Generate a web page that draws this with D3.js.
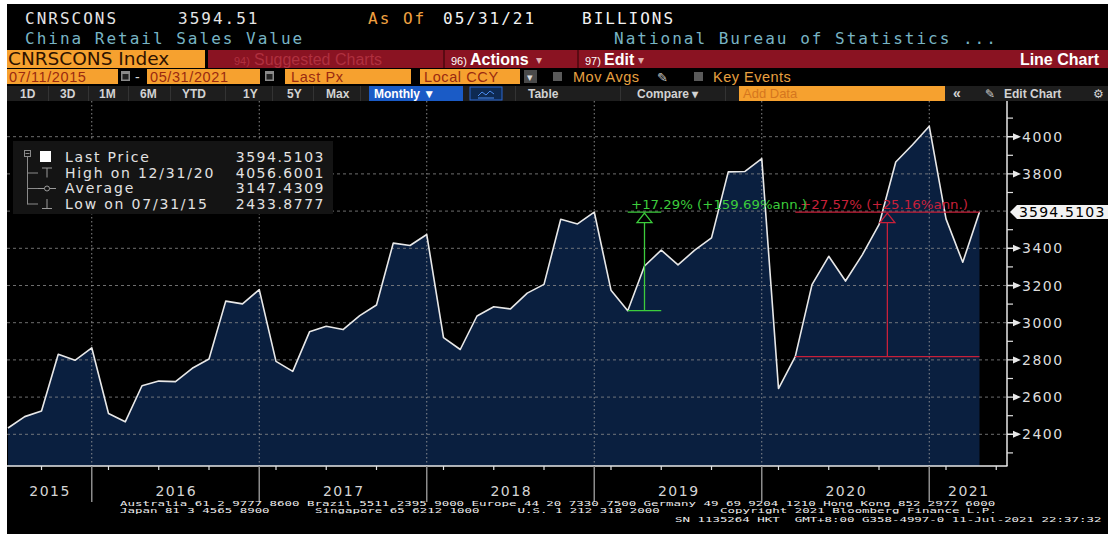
<!DOCTYPE html>
<html><head><meta charset="utf-8">
<script src="https://cdn.jsdelivr.net/npm/d3@7"></script>
<style>
html,body{margin:0;padding:0;background:#fff;}
svg{display:block;}
text{white-space:pre;}
</style></head><body>
<svg id="c" width="1108" height="534"></svg>
<script>
// ---------------- DATA ----------------
const months = [
"2015-07","2015-08","2015-09","2015-10","2015-11","2015-12",
"2016-03","2016-04","2016-05","2016-06","2016-07","2016-08","2016-09","2016-10","2016-11","2016-12",
"2017-03","2017-04","2017-05","2017-06","2017-07","2017-08","2017-09","2017-10","2017-11","2017-12",
"2018-03","2018-04","2018-05","2018-06","2018-07","2018-08","2018-09","2018-10","2018-11","2018-12",
"2019-03","2019-04","2019-05","2019-06","2019-07","2019-08","2019-09","2019-10","2019-11","2019-12",
"2020-03","2020-04","2020-05","2020-06","2020-07","2020-08","2020-09","2020-10","2020-11","2020-12",
"2021-03","2021-04","2021-05"];
const values = [
2433.88,2495,2525,2830,2798,2865,
2512,2467,2661,2686,2683,2755,2805,3116,3101,3178,
2792,2738,2951,2981,2963,3038,3095,3428,3415,3474,
2920,2856,3036,3086,3074,3159,3206,3556,3531,3595,
3175,3064.6,3305,3390,3311,3390,3456,3811,3813,3882,
2646,2817.7,3205,3357,3224,3365,3527,3864,3957,4056.6,
3558,3325,3594.51];
const axisMonths = months.concat(["2021-06"]);
const yTicks = [2400,2600,2800,3000,3200,3400,3600,3800,4000];
const yMinor = [2300,2500,2700,2900,3100,3300,3500,3700,3900,4100];
const yearLabels = ["2015","2016","2017","2018","2019","2020","2021"];
const legendLabels = ["Last Price","High on 12/31/20","Average","Low on 07/31/15"];
const legendValues = ["3594.5103","4056.6001","3147.4309","2433.8777"];
const lastValue = 3594.5103;
const lastLabel = "3594.5103";
const greenMeasure = {from:"2019-04", to:"2019-06", label:"+17.29% (+159.69%ann.)"};
const redMeasure = {from:"2020-04", to:"2021-05", label:"+27.57% (+25.16%ann.)"};
const footer1 = ["Australia 61 2 9777 8600 Brazil 5511 2395 9000 Europe 44 20 7330 7500 Germany 49 69 9204 1210 Hong Kong 852 2977 6000"];
const footer2 = ["Japan 81 3 4565 8900","Singapore 65 6212 1000","U.S. 1 212 318 2000","Copyright 2021 Bloomberg Finance L.P."];
const footer2Cols = [0,26,53,80];
const footer3 = "SN 1135264 HKT  GMT+8:00 G358-4997-0 11-Jul-2021 22:37:32";

// ---------------- SETUP ----------------
const svg = d3.select("#c");
const MONO = "'DejaVu Sans Mono', monospace";
const SANS = "'DejaVu Sans', Verdana, sans-serif";
const ARIAL = "'Liberation Sans', Arial, sans-serif";
const ORANGE = "#f6a12f";

svg.append("rect").attr("width",1108).attr("height",534).attr("fill","#fff");
svg.append("rect").attr("x",7).attr("y",4).attr("width",1101).attr("height",530).attr("fill","#000");

function T(x,y,s,o){
  o=o||{};
  const t=svg.append("text").attr("x",x).attr("y",y).text(s)
    .attr("font-family",o.ff||SANS).attr("font-size",o.fs||14)
    .attr("fill",o.fill||"#e0e0e0");
  if(o.ls!==undefined) t.attr("letter-spacing",o.ls);
  if(o.fw) t.attr("font-weight",o.fw);
  if(o.anchor) t.attr("text-anchor",o.anchor);
  if(o.tl) t.attr("textLength",o.tl).attr("lengthAdjust","spacingAndGlyphs");
  return t;
}

// ---------------- HEADER ----------------
[["CNRSCONS",25,"#e4e4e4"],["3594.51",178,"#e4e4e4"],["As Of",368,"#f0a040"],["05/31/21",443,"#f2f2f2"],["BILLIONS",582,"#f2f2f2"]]
 .forEach(d=>T(d[1],24,d[0],{ff:MONO,fs:16,ls:2,fill:d[2]}));
T(25,44,"China Retail Sales Value",{ff:MONO,fs:16,ls:2,fill:"#78b4c4"});
T(614,44,"National Bureau of Statistics ...",{ff:MONO,fs:16,ls:2,fill:"#78b4c4"});

// row 3
svg.append("rect").attr("x",7).attr("y",50).attr("width",198).attr("height",18).attr("fill",ORANGE);
T(8,65,"CNRSCONS Index",{fs:18.5,fill:"#2e1200"});
svg.append("rect").attr("x",208).attr("y",50).attr("width",900).attr("height",18).attr("fill","#8a1322");
T(234,65,"94)",{ff:ARIAL,fs:11,fill:"#b0303f"});
T(254,65,"Suggested Charts",{ff:ARIAL,fs:16,fill:"#b0303f"});
svg.append("rect").attr("x",443).attr("y",50).attr("width",2).attr("height",18).attr("fill","#5a0a12");
T(451,65,"96)",{ff:ARIAL,fs:11,fill:"#fff"});
T(470,65,"Actions",{ff:ARIAL,fs:16,fw:"bold",fill:"#fff"});
T(536,64,"▾",{ff:SANS,fs:12,fill:"#e0b0b0"});
svg.append("rect").attr("x",577).attr("y",50).attr("width",2).attr("height",18).attr("fill","#5a0a12");
T(585,65,"97)",{ff:ARIAL,fs:11,fill:"#fff"});
T(604,65,"Edit",{ff:ARIAL,fs:16,fw:"bold",fill:"#fff"});
T(638,64,"▾",{ff:SANS,fs:12,fill:"#e0b0b0"});
T(1099,65,"Line Chart",{ff:ARIAL,fs:16,fw:"bold",fill:"#fff",anchor:"end"});

// row 4
function obox(x,w,s,tx,col){
  svg.append("rect").attr("x",x).attr("y",69).attr("width",w).attr("height",15).attr("fill",ORANGE);
  T(x+(tx||2),82,s,{ff:ARIAL,fs:14.5,ls:0.6,fill:col||"#9a2a10"});
}
function cal(x){
  svg.append("rect").attr("x",x).attr("y",71).attr("width",9).attr("height",10).attr("fill","#8a8a8a");
  svg.append("rect").attr("x",x+1.5).attr("y",74).attr("width",6).attr("height",5.5).attr("fill","#222");
}
obox(7,111,"07/11/2015",2); cal(121);
T(135,82,"-",{ff:ARIAL,fs:14,fill:"#ddd"});
obox(147,113,"05/31/2021",3); cal(265);
obox(285,126,"Last Px",6);
obox(420,100,"Local CCY",4);
svg.append("rect").attr("x",524).attr("y",70).attr("width",13).attr("height",13).attr("fill","#4a4a4a");
T(527,81,"▾",{fs:11,fill:"#ddd"});
svg.append("rect").attr("x",553).attr("y",72).attr("width",9).attr("height",9).attr("fill","#5a5a5a");
T(573,82,"Mov Avgs",{ff:ARIAL,fs:14.5,ls:0.5,fill:"#e8a040"});
T(657,82,"✎",{fs:13,fill:"#c8c8c8"});
svg.append("rect").attr("x",694).attr("y",72).attr("width",9).attr("height",9).attr("fill","#5a5a5a");
T(713,82,"Key Events",{ff:ARIAL,fs:14.5,ls:0.5,fill:"#e8a040"});

// row 5
svg.append("rect").attr("x",7).attr("y",86).attr("width",1101).attr("height",15).attr("fill","#1e1e1e");
[["1D",20],["3D",60],["1M",99],["6M",140],["YTD",182],["1Y",243],["5Y",287],["Max",326]]
 .forEach(d=>T(d[1],98,d[0],{ff:ARIAL,fs:12,fw:"bold",fill:"#d2d2d2"}));
[48,88,128,170,225,272,313,360,515,620,725].forEach(x=>svg.append("rect").attr("x",x).attr("y",86).attr("width",1).attr("height",15).attr("fill","#333"));
svg.append("rect").attr("x",369).attr("y",86).attr("width",94).attr("height",15).attr("fill","#1a5bc6");
T(374,98,"Monthly ▼",{ff:ARIAL,fs:12,fw:"bold",fill:"#fff"});
svg.append("rect").attr("x",470).attr("y",87).attr("width",32).attr("height",13).attr("fill","#0e2a52").attr("stroke","#2a66d0");
svg.append("path").attr("d","M478,96 L482,92 L486,95 L490,91 L494,94 M478,98 L494,98").attr("stroke","#4a8cf0").attr("fill","none");
T(528,98,"Table",{ff:ARIAL,fs:12,fw:"bold",fill:"#d2d2d2"});
T(637,98,"Compare ▾",{ff:ARIAL,fs:12,fw:"bold",fill:"#d2d2d2"});
svg.append("rect").attr("x",739).attr("y",86).attr("width",206).attr("height",15).attr("fill",ORANGE);
T(743,98,"Add Data",{ff:ARIAL,fs:13,fill:"#d5761e"});
T(953,98,"«",{ff:ARIAL,fs:14,fw:"bold",fill:"#d2d2d2"});
T(985,98,"✎",{fs:12,fill:"#d2d2d2"});
T(1004,98,"Edit Chart",{ff:ARIAL,fs:12,fw:"bold",fill:"#d2d2d2"});
T(1093,98,"⚙",{fs:12,fill:"#d2d2d2"});

// ---------------- CHART ----------------
const L=7, R=1007, TOP=101, BOT=466;
const x = d3.scalePoint().domain(axisMonths).range([8, 996.25]);
const y = d3.scaleLinear().domain([2400,4000]).range([434.3,136.7]);
const data = months.map((m,i)=>({m, v:values[i]}));

const area = d3.area().x(d=>x(d.m)).y0(BOT).y1(d=>y(d.v));
const line = d3.line().x(d=>x(d.m)).y(d=>y(d.v));

svg.append("path").datum(data).attr("d",area).attr("fill","#0a1f3f");

// grids
const g = svg.append("g");
g.selectAll(".hg").data(yTicks).join("line")
  .attr("x1",L).attr("x2",R).attr("y1",d=>y(d)).attr("y2",d=>y(d))
  .attr("stroke","#8a8a8a").attr("stroke-width",1).attr("stroke-dasharray","3,3").attr("opacity",0.8);
const decs = axisMonths.filter(m=>m.endsWith("-12"));
g.selectAll(".vg").data(decs).join("line")
  .attr("x1",d=>x(d)).attr("x2",d=>x(d)).attr("y1",TOP).attr("y2",BOT)
  .attr("stroke","#a0a0a0").attr("stroke-width",1).attr("stroke-dasharray","1.5,2.5").attr("opacity",0.85);

svg.append("path").datum(data).attr("d",line).attr("fill","none")
  .attr("stroke","#e8e8e8").attr("stroke-width",1.6).attr("stroke-linejoin","round");

// axes
svg.append("line").attr("x1",L).attr("x2",R+0.5).attr("y1",BOT).attr("y2",BOT).attr("stroke","#e8e8e8").attr("stroke-width",1.5);
svg.append("line").attr("x1",R).attr("x2",R).attr("y1",TOP).attr("y2",BOT).attr("stroke","#e8e8e8").attr("stroke-width",1.5);

// bottom ticks
const qt = axisMonths.filter(m=>/-(03|06|09)$/.test(m));
svg.selectAll(".bt").data(qt).join("line")
  .attr("x1",d=>x(d)).attr("x2",d=>x(d)).attr("y1",BOT).attr("y2",BOT+4)
  .attr("stroke","#e0e0e0").attr("stroke-width",1.2);
svg.selectAll(".ys").data(decs).join("line")
  .attr("x1",d=>x(d)).attr("x2",d=>x(d)).attr("y1",BOT).attr("y2",502)
  .attr("stroke","#8c8c8c").attr("stroke-width",1.5);
const bounds = [L].concat(decs.map(d=>x(d))).concat([R]);
svg.selectAll(".yl").data(yearLabels).join("text")
  .attr("x",(d,i)=>(bounds[i]+bounds[i+1])/2+0.75).attr("y",495.5)
  .attr("text-anchor","middle").attr("font-family",SANS).attr("font-size",14)
  .attr("letter-spacing",1.5).attr("fill","#d4d4d4").text(d=>d);

// right axis ticks
svg.selectAll(".mt").data(yMinor).join("line")
  .attr("x1",R).attr("x2",R+6).attr("y1",d=>y(d)).attr("y2",d=>y(d))
  .attr("stroke","#e0e0e0").attr("stroke-width",1.2);
const shown = yTicks.filter(v=>Math.abs(y(v)-y(lastValue))>8);
svg.selectAll(".tk").data(shown).join("path")
  .attr("d",d=>{const yy=y(d);return `M${R},${yy-0.7}L${R+6},${yy-0.7}L${R+6},${yy-3.5}L${R+14},${yy}L${R+6},${yy+3.5}L${R+6},${yy+0.7}L${R},${yy+0.7}Z`;})
  .attr("fill","#e8e8e8");
svg.selectAll(".tl").data(shown).join("text")
  .attr("x",R+15).attr("y",d=>y(d)+5).attr("font-family",SANS).attr("font-size",14)
  .attr("letter-spacing",1.5).attr("fill","#dcdcdc").text(d=>d);

// legend
svg.append("rect").attr("x",13).attr("y",141).attr("width",320).attr("height",73).attr("fill","#141414");
const lgY = [162,177.5,193,208.5];
svg.append("rect").attr("x",24.5).attr("y",150.5).attr("width",6).attr("height",6).attr("fill","none").attr("stroke","#8a8a8a");
svg.append("line").attr("x1",25.5).attr("x2",29.5).attr("y1",153.5).attr("y2",153.5).attr("stroke","#8a8a8a");
svg.append("line").attr("x1",27.5).attr("x2",27.5).attr("y1",157).attr("y2",lgY[3]-4).attr("stroke","#8a8a8a");
[1,2,3].forEach(i=>svg.append("line").attr("x1",27.5).attr("x2",38).attr("y1",lgY[i]-4.5).attr("y2",lgY[i]-4.5).attr("stroke","#8a8a8a"));
svg.append("rect").attr("x",40).attr("y",151).attr("width",11).attr("height",11).attr("fill","#fff");
svg.append("path").attr("d",`M42,${lgY[1]-9.5}L52,${lgY[1]-9.5}M47,${lgY[1]-9.5}L47,${lgY[1]}`).attr("stroke","#9a9a9a").attr("fill","none");
svg.append("line").attr("x1",38).attr("x2",56).attr("y1",lgY[2]-4.5).attr("y2",lgY[2]-4.5).attr("stroke","#9a9a9a");
svg.append("circle").attr("cx",47).attr("cy",lgY[2]-4.5).attr("r",2.5).attr("fill","#141414").attr("stroke","#9a9a9a");
svg.append("path").attr("d",`M47,${lgY[3]-9.5}L47,${lgY[3]}M42,${lgY[3]}L52,${lgY[3]}`).attr("stroke","#9a9a9a").attr("fill","none");
svg.selectAll(".ll").data(legendLabels).join("text")
  .attr("x",65).attr("y",(d,i)=>lgY[i]).attr("font-family",SANS).attr("font-size",14)
  .attr("letter-spacing",1.8).attr("fill","#e2e2e2").text(d=>d);
svg.selectAll(".lv").data(legendValues).join("text")
  .attr("x",325).attr("y",(d,i)=>lgY[i]).attr("text-anchor","end").attr("font-family",SANS).attr("font-size",14)
  .attr("letter-spacing",1.5).attr("fill","#e2e2e2").text(d=>d);

// measurement annotations
function measure(ms, col, labelX, tl){
  const v0 = values[months.indexOf(ms.from)];
  const x0 = x(ms.from), x1 = x(ms.to), xm=(x0+x1)/2;
  const yb = y(v0), yt = y(lastValue);
  svg.append("line").attr("x1",x0).attr("x2",x1).attr("y1",yb).attr("y2",yb).attr("stroke",col).attr("stroke-width",1.3);
  svg.append("line").attr("x1",x0).attr("x2",x1).attr("y1",yt).attr("y2",yt).attr("stroke",col).attr("stroke-width",1.3);
  svg.append("line").attr("x1",xm).attr("x2",xm).attr("y1",yb).attr("y2",yt+10).attr("stroke",col).attr("stroke-width",1.3);
  svg.append("path").attr("d",`M${xm},${yt+1}L${xm+7.5},${yt+10.5}L${xm-7.5},${yt+10.5}Z`)
    .attr("fill","none").attr("stroke",col).attr("stroke-width",1.3);
  T(labelX, yt-3, ms.label, {fs:12.5, fill:col, tl:tl});
}
measure(redMeasure, "#c8203a", 800, 168);
measure(greenMeasure, "#3ccc3c", 631, 176);

// last price label
const yl = y(lastValue);
svg.append("path").attr("d",`M${R+3},${yl}L${R+10},${yl-7}L1108,${yl-7}L1108,${yl+7}L${R+10},${yl+7}Z`).attr("fill","#f2f2f2");
T(R+12, yl+5, lastLabel, {fs:14, ls:1.2, fill:"#000"});

// footer
function ft(x0,yy,s){
  svg.append("text").attr("transform",`translate(${x0},${yy}) scale(1,0.58)`)
    .attr("font-family",MONO).attr("font-size",12.45).attr("fill","#ececec").text(s);
}
ft(120,506,footer1[0]);
footer2.forEach((s,i)=>ft(120+footer2Cols[i]*7.5,512.5,s));
ft(675,522,footer3);
</script>
</body></html>
